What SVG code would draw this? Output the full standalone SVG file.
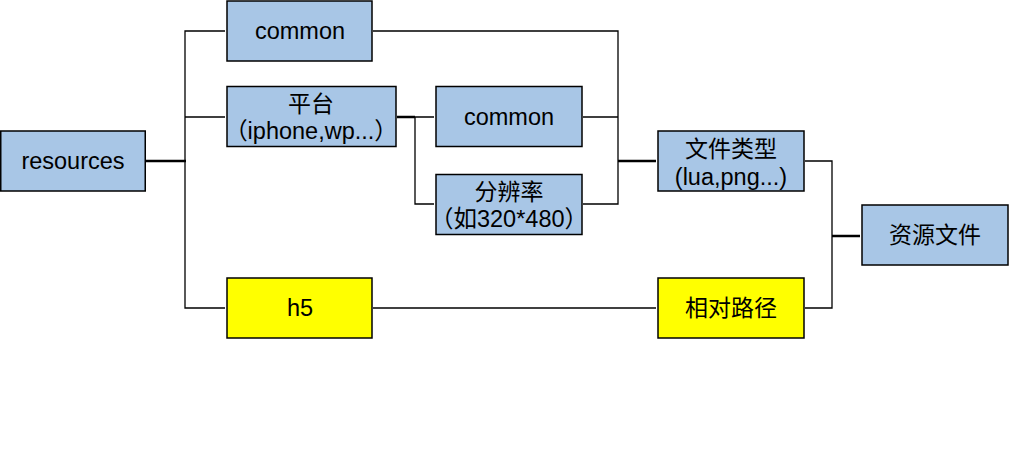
<svg xmlns="http://www.w3.org/2000/svg" width="1010" height="472" viewBox="0 0 1010 472">
<style>
.b{fill:#A8C6E6;stroke:#000;stroke-width:1.5}
.y{fill:#FFFF00;stroke:#000;stroke-width:1.5}
.t{font-family:"Liberation Sans","Noto Sans CJK SC",Arial,sans-serif;font-size:23.5px;fill:#000;text-anchor:middle}
.c{font-family:"Noto Sans CJK SC","Liberation Sans",sans-serif;font-size:23px;fill:#000;text-anchor:middle}
.l{fill:none;stroke:#000;stroke-width:1.3}
.k{fill:none;stroke:#000;stroke-width:2.5}
</style>
<rect width="1010" height="472" fill="#fff"/>
<g id="connectors">
<path class="k" d="M146 161H186"/>
<path class="l" d="M225 31H185V308H225M185 117H225"/>
<path class="k" d="M397 117H415"/>
<path class="l" d="M415 117H434M415 117V204H434"/>
<path class="l" d="M373 31H618V204H583M583 117H618"/>
<path class="k" d="M618 161H656"/>
<path class="l" d="M805 161H832V308H805"/>
<path class="k" d="M832 236H860"/>
<path class="l" d="M373 308H656"/>
</g>
<g id="resources"><rect class="b" x="0.75" y="131" width="144.5" height="60"/><text class="t" x="73" y="169">resources</text></g>
<g id="common1"><rect class="b" x="227" y="1" width="145" height="60"/><text class="t" x="300" y="39">common</text></g>
<g id="platform"><rect class="b" x="227" y="86.5" width="169" height="60"/><text class="c" x="311" y="112">平台</text><text class="t" x="311" y="139">（iphone,wp...）</text></g>
<g id="h5"><rect class="y" x="227" y="278" width="145" height="60"/><text class="t" x="300" y="316">h5</text></g>
<g id="common2"><rect class="b" x="436" y="86.5" width="146" height="60"/><text class="t" x="509" y="125">common</text></g>
<g id="resolution"><rect class="b" x="436" y="174.5" width="146" height="60"/><text class="c" x="509" y="200">分辨率</text><text class="t" x="509" y="227">（如320*480）</text></g>
<g id="filetype"><rect class="b" x="658" y="131" width="146" height="60"/><text class="c" x="731" y="157">文件类型</text><text class="t" x="731" y="185">(lua,png...)</text></g>
<g id="relpath"><rect class="y" x="658" y="278" width="146" height="60"/><text class="c" x="731" y="316">相对路径</text></g>
<g id="resfile"><rect class="b" x="862" y="205" width="146" height="60"/><text class="c" x="935" y="243">资源文件</text></g>
</svg>
